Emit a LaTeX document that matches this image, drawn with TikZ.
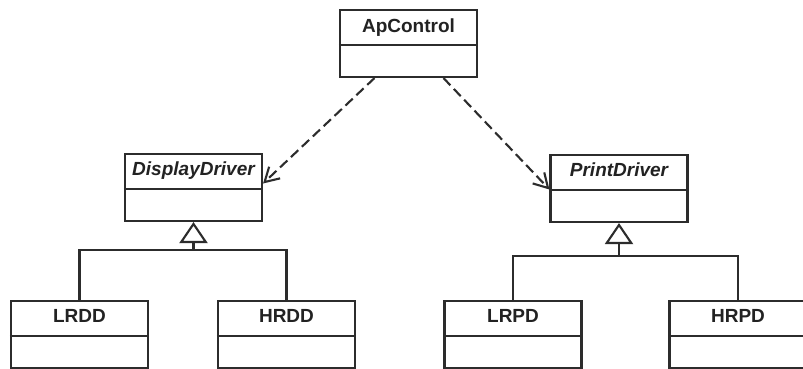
\documentclass[tikz,border=0pt]{standalone}
\usepackage{fontspec}
\setmainfont{Liberation Sans}
\usetikzlibrary{arrows.meta}
\definecolor{linecol}{HTML}{2c2c2c}
\definecolor{txtcol}{HTML}{222222}
\begin{document}
\begin{tikzpicture}[x=1pt,y=1pt,
  cls/.style={draw=linecol, line width=2.1pt, minimum width=137pt, minimum height=67pt, inner sep=0pt, fill=white},
  ttl/.style={text=txtcol, font=\fontsize{19}{22}\selectfont\bfseries, inner sep=0pt, anchor=base},
  ittl/.style={ttl, font=\fontsize{19}{22}\selectfont\bfseries\itshape},
  dep/.style={draw=linecol, line width=2.1pt, dash pattern=on 10pt off 5pt, -{Straight Barb[angle=60:16pt,line width=2.1pt]}},
  inh/.style={draw=linecol, line width=2.1pt},
  gen/.style={inh, -{Triangle[open,length=21pt,width=28pt,line width=2.1pt,fill=white]}}
]
\useasboundingbox[fill=white] (0,0) rectangle (803,-369);

% class boxes
\node[cls] (ap)   at (408.5,-43.5) {};
\node[cls] (dd)   at (193.5,-187.5) {};
\node[cls] (pd)   at (619,-188.5) {};
\node[cls] (lrdd) at (79.5,-334.5) {};
\node[cls] (hrdd) at (286.5,-334.5) {};
\node[cls] (lrpd) at (513,-334.5) {};
\node[cls] (hrpd) at (738,-334.5) {};

% titles
\node[ttl]  (apt)   at ([yshift=-24pt]ap.north)   {ApControl};
\node[ittl] (ddt)   at ([yshift=-23pt]dd.north)   {DisplayDriver};
\node[ittl] (pdt)   at ([yshift=-23pt]pd.north)   {PrintDriver};
\node[ttl]  (lrddt) at ([yshift=-23pt]lrdd.north) {LRDD};
\node[ttl]  (hrddt) at ([yshift=-23pt]hrdd.north) {HRDD};
\node[ttl]  (lrpdt) at ([yshift=-23pt]lrpd.north) {LRPD};
\node[ttl]  (hrpdt) at ([yshift=-23pt]hrpd.north) {HRPD};

% dividers
\foreach \n in {ap,dd,pd,lrdd,hrdd,lrpd,hrpd}{
  \draw[inh] ([yshift=-36pt]\n.north west) -- ([yshift=-36pt]\n.north east);
}

% dependencies
\draw[dep] ([xshift=-34pt]ap.south) -- ([yshift=4pt]dd.east);
\draw[dep] ([xshift=35pt]ap.south) -- ([yshift=-1pt]pd.west);

% generalizations
\coordinate (j1) at (193.5,-250);
\coordinate (j2) at (619,-256);
\draw[inh] (lrdd.north) |- (j1) -| (hrdd.north);
\draw[gen] (j1) -- (dd.south);
\draw[inh] (lrpd.north) |- (j2) -| (hrpd.north);
\draw[gen] (j2) -- (pd.south);
\end{tikzpicture}
\end{document}
